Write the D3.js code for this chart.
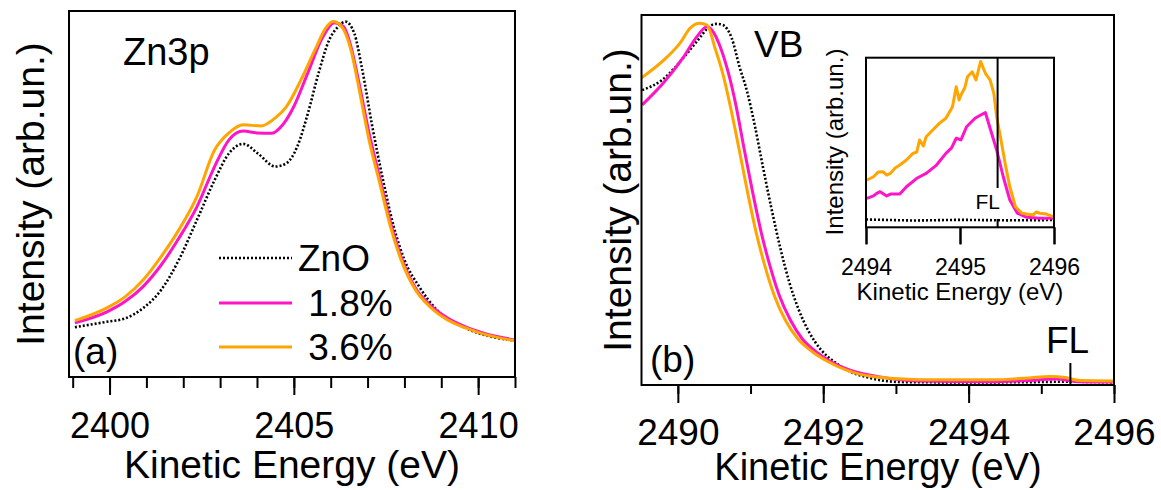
<!DOCTYPE html>
<html>
<head>
<meta charset="utf-8">
<script src="https://cdnjs.cloudflare.com/ajax/libs/d3/7.8.5/d3.min.js"></script>
<style>
body { margin: 0; background: #fff; }
svg { display: block; font-family: "Liberation Sans", Arial, sans-serif; }
</style>
</head>
<body>
<svg id="chart" width="1161" height="490"></svg>
<script>
// ---- panel (a) Zn3p ----
var zn3pEnergyZnO = [2399.06, 2399.93, 2400.42, 2400.91, 2401.40, 2401.88, 2402.37, 2402.85, 2403.24, 2403.63,
    2404.02, 2404.50, 2404.80, 2405.09, 2405.38, 2405.67, 2405.96, 2406.20, 2406.40, 2406.64,
    2406.84, 2407.13, 2407.42, 2407.71, 2408.00, 2408.40, 2408.88, 2409.66, 2411.0];
var zn3pZnO = [13.6, 15.1, 16.0, 18.8, 23.8, 32.0, 42.9, 53.8, 61.1, 63.7,
    61.1, 57.5, 58.4, 62.9, 72.0, 83.0, 92.1, 95.7, 97.1, 93.9,
    84.8, 68.4, 53.8, 41.1, 32.0, 24.7, 18.3, 13.4, 9.9];

var zn3pEnergy18 = [2399.06, 2399.93, 2400.42, 2400.91, 2401.40, 2401.88, 2402.37, 2402.85, 2403.24, 2403.63,
    2404.00, 2404.40, 2404.70, 2405.00, 2405.38, 2405.77, 2406.10, 2406.35, 2406.55, 2406.74,
    2407.04, 2407.33, 2407.62, 2407.91, 2408.30, 2408.69, 2409.17, 2409.66, 2410.15, 2411.0];
var zn3p18 = [14.8, 17.8, 20.6, 24.7, 30.6, 37.9, 46.5, 57.5, 64.8, 67.2,
    66.7, 66.6, 68.9, 73.9, 83.1, 92.6, 96.8, 95.7, 90.2, 81.7,
    66.7, 54.4, 42.3, 32.8, 24.3, 19.7, 16.1, 13.7, 12.0, 10.1];

var zn3pEnergy36 = [2399.06, 2399.93, 2400.42, 2400.91, 2401.40, 2401.88, 2402.37, 2402.85, 2403.24, 2403.63,
    2404.12, 2404.50, 2404.80, 2405.19, 2405.57, 2405.87, 2406.06, 2406.30, 2406.55, 2406.74,
    2407.04, 2407.33, 2407.62, 2407.91, 2408.30, 2408.69, 2409.17, 2409.66, 2410.15, 2411.0];
var zn3p36 = [15.4, 18.9, 21.9, 26.5, 32.9, 40.2, 49.3, 62.0, 66.7, 68.9,
    68.6, 70.8, 73.9, 81.1, 89.3, 95.4, 97.1, 95.7, 89.3, 80.3,
    64.8, 53.0, 41.1, 32.0, 23.8, 19.2, 15.6, 13.4, 11.7, 9.9];

var zn3pMajorTicks = [2400, 2405, 2410];
var zn3pMinorTicks = [2399, 2400, 2401, 2402, 2403, 2404, 2405, 2406, 2407, 2408, 2409, 2410, 2411];

// ---- panel (b) valence band ----
var vbEnergyZnO = [2489.51, 2489.78, 2490.13, 2490.30, 2490.44, 2490.54, 2490.62, 2490.74, 2490.85, 2490.95,
    2491.06, 2491.17, 2491.29, 2491.41, 2491.53, 2491.66, 2491.80, 2491.97, 2492.15, 2492.35,
    2492.64, 2493.06, 2494.0, 2495.0, 2495.3, 2496.0];
var vbZnO = [79.7, 82.4, 89.7, 93.8, 97.0, 97.6, 97.3, 93.8, 85.9, 79.5,
    70.0, 59.0, 47.5, 37.0, 28.0, 20.5, 14.5, 9.5, 6.3, 3.8,
    1.9, 0.8, 0.7, 0.8, 0.9, 0.7];

var vbEnergy18 = [2489.51, 2489.80, 2490.07, 2490.26, 2490.40, 2490.47, 2490.60, 2490.70, 2490.80, 2490.91,
    2491.03, 2491.15, 2491.27, 2491.40, 2491.55, 2491.71, 2491.90, 2492.09, 2492.37, 2492.78,
    2493.3, 2494.3, 2494.8, 2495.2, 2495.5, 2496.0];
var vb18 = [75.7, 81.6, 88.4, 94.1, 96.8, 95.9, 90.5, 84.0, 75.5, 64.0,
    52.0, 41.0, 32.0, 24.0, 17.5, 12.5, 9.0, 6.5, 4.0, 2.2,
    1.1, 0.9, 1.2, 1.6, 0.9, 0.8];

var vbEnergy36 = [2489.50, 2489.85, 2490.03, 2490.17, 2490.30, 2490.40, 2490.52, 2490.62, 2490.72, 2490.84,
    2490.96, 2491.08, 2491.20, 2491.33, 2491.48, 2491.65, 2491.85, 2492.05, 2492.31, 2492.71,
    2493.32, 2494.32, 2494.82, 2495.12, 2495.33, 2495.53, 2496.0];
var vb36 = [83.0, 88.6, 92.4, 96.5, 97.8, 97.3, 90.5, 84.0, 75.5, 64.0,
    52.0, 41.0, 32.0, 24.0, 17.5, 12.5, 9.0, 6.5, 4.1, 2.2,
    1.4, 1.4, 1.9, 2.3, 2.0, 1.2, 1.1];

var vbMajorTicks = [2490, 2492, 2494, 2496];
var vbMinorTicks = [2490, 2491, 2492, 2493, 2494, 2495, 2496];
var fermiLevel = 2495.4;

// ---- inset, zoom on the Fermi edge ----
var insetEnergyZnO = [2494.0, 2494.5, 2495.0, 2495.5, 2496.0];
var insetZnO = [4.6, 4.0, 4.4, 4.1, 4.3];

var insetEnergy18 = [2494.01, 2494.08, 2494.12, 2494.15, 2494.22, 2494.26, 2494.36, 2494.43, 2494.54, 2494.64,
    2494.75, 2494.85, 2494.91, 2494.96, 2495.01, 2495.07, 2495.16, 2495.22, 2495.27, 2495.32,
    2495.39, 2495.46, 2495.53, 2495.61, 2495.71, 2495.85, 2495.99];
var inset18 = [17.1, 18.5, 20.2, 21.0, 18.5, 19.6, 19.6, 23.9, 28.9, 31.8,
    36.7, 43.6, 46.8, 52.5, 51.5, 59.3, 64.3, 66.2, 67.6, 58.4,
    45.6, 29.8, 16.1, 8.3, 5.9, 5.3, 5.3];

var insetEnergy36 = [2494.01, 2494.08, 2494.13, 2494.18, 2494.22, 2494.26, 2494.31, 2494.36, 2494.43, 2494.50,
    2494.54, 2494.57, 2494.61, 2494.64, 2494.71, 2494.78, 2494.85, 2494.92, 2494.96, 2494.99,
    2495.01, 2495.05, 2495.08, 2495.13, 2495.17, 2495.22, 2495.27, 2495.32, 2495.36, 2495.39,
    2495.43, 2495.48, 2495.53, 2495.59, 2495.66, 2495.78, 2495.81, 2495.85, 2495.92, 2495.99];
var inset36 = [27.9, 29.8, 32.6, 32.8, 30.8, 31.8, 35.0, 36.7, 39.7, 43.6,
    44.4, 51.5, 47.9, 53.4, 57.4, 61.3, 64.3, 71.1, 82.9, 75.1,
    78.0, 82.1, 88.8, 91.7, 86.9, 97.8, 90.8, 86.9, 79.0, 65.2,
    53.4, 37.7, 23.9, 12.1, 8.3, 7.3, 9.0, 8.3, 7.8, 6.3];

var insetTicks = [2494, 2495, 2496];

var legendLabels = ['ZnO', ' 1.8%', ' 3.6%'];
var seriesColors = ['#000', '#ff14c8', '#ffa500'];

var svg = d3.select('#chart');

function zip(xs, ys) {
    return xs.map(function(x, i) { return [x, ys[i]]; });
}

function drawSeries(g, x, y, series, curve) {
    var line = d3.line()
        .x(function(d) { return x(d[0]); })
        .y(function(d) { return y(d[1]); })
        .curve(curve);
    series.forEach(function(s, i) {
        g.append('path')
            .datum(s)
            .attr('d', line)
            .attr('fill', 'none')
            .attr('stroke', seriesColors[i])
            .attr('stroke-width', i == 0 ? 2.6 : 3)
            .attr('stroke-dasharray', i == 0 ? '2,2' : null)
            .attr('stroke-linejoin', 'round');
    });
}

function drawAxis(g, x, y0, major, minor, majorLen, minorLen, labelY, fontSize) {
    var minorAxis = d3.axisBottom(x).tickValues(minor).tickSize(minorLen).tickFormat('');
    g.append('g').attr('transform', 'translate(0,' + y0 + ')').call(minorAxis);
    var majorAxis = d3.axisBottom(x).tickValues(major).tickSize(majorLen).tickFormat(d3.format('d'));
    var ag = g.append('g').attr('transform', 'translate(0,' + y0 + ')').call(majorAxis);
    ag.selectAll('text')
        .attr('y', labelY).attr('dy', null)
        .attr('fill', '#000')
        .style('font-size', fontSize + 'px');
    g.selectAll('.domain').remove();
    g.selectAll('.tick line').attr('stroke', '#000').attr('stroke-width', 2);
}

function frame(g, x0, y0, x1, y1) {
    g.append('rect')
        .attr('x', x0).attr('y', y0)
        .attr('width', x1 - x0).attr('height', y1 - y0)
        .attr('fill', 'none').attr('stroke', '#000').attr('stroke-width', 2);
}

function clip(id, x0, y0, x1, y1) {
    svg.append('clipPath').attr('id', id)
        .append('rect').attr('x', x0).attr('y', y0).attr('width', x1 - x0).attr('height', y1 - y0);
}

function text(g, x, y, str, size, anchor, rotate) {
    var t = g.append('text')
        .attr('x', x).attr('y', y)
        .attr('text-anchor', anchor || 'start')
        .style('font-size', size + 'px')
        .style('white-space', 'pre')
        .text(str);
    if (rotate)
        t.attr('transform', 'rotate(-90,' + x + ',' + y + ')');
    return t;
}

// panel (a)
var ax = d3.scaleLinear().domain([2398.9, 2411]).range([69, 515]);
var ay = d3.scaleLinear().domain([0, 100]).range([377, 11]);
var ga = svg.append('g');
clip('clipa', 69, 11, 515, 377);
drawSeries(ga.append('g').attr('clip-path', 'url(#clipa)'), ax, ay,
    [zip(zn3pEnergyZnO, zn3pZnO), zip(zn3pEnergy18, zn3p18), zip(zn3pEnergy36, zn3p36)], d3.curveMonotoneX);
frame(ga, 69, 11, 515, 377);
drawAxis(ga, ax, 377, zn3pMajorTicks, zn3pMinorTicks, 18, 11, 61, 36);
text(ga, (69 + 515) / 2, 478, 'Kinetic Energy (eV)', 39, 'middle');
text(ga, 44, 194, 'Intensity (arb.un.)', 39, 'middle', true);
text(ga, 123, 65, 'Zn3p', 38);
text(ga, 73, 364, '(a)', 37);

// legend
legendLabels.forEach(function(lab, i) {
    var ly = [258, 303, 347][i];
    ga.append('line')
        .attr('x1', 219).attr('x2', 292).attr('y1', ly).attr('y2', ly)
        .attr('stroke', seriesColors[i])
        .attr('stroke-width', i == 0 ? 2.6 : 3)
        .attr('stroke-dasharray', i == 0 ? '2,2' : null);
    text(ga, 298, ly + 13, lab, 37);
});

// panel (b)
var bx = d3.scaleLinear().domain([2489.5, 2496]).range([641.5, 1114]);
var by = d3.scaleLinear().domain([0, 100]).range([385, 15]);
var gb = svg.append('g');
clip('clipb', 641.5, 15, 1114, 385);
drawSeries(gb.append('g').attr('clip-path', 'url(#clipb)'), bx, by,
    [zip(vbEnergyZnO, vbZnO), zip(vbEnergy18, vb18), zip(vbEnergy36, vb36)], d3.curveMonotoneX);
frame(gb, 641.5, 15, 1114, 385);
drawAxis(gb, bx, 385, vbMajorTicks, vbMinorTicks, 18, 9, 60, 37);
gb.append('line')
    .attr('x1', bx(fermiLevel)).attr('x2', bx(fermiLevel))
    .attr('y1', 363).attr('y2', 385)
    .attr('stroke', '#000').attr('stroke-width', 2);
text(gb, 1046, 353, 'FL', 37);
text(gb, 878, 480, 'Kinetic Energy (eV)', 38, 'middle');
text(gb, 631, 200, 'Intensity (arb.un.)', 39, 'middle', true);
text(gb, 754, 57, 'VB', 37);
text(gb, 650, 372, '(b)', 37);

// inset
var ix = d3.scaleLinear().domain([2494, 2496]).range([866, 1054]);
var iy = d3.scaleLinear().domain([0, 100]).range([227.3, 57.7]);
var gi = svg.append('g');
gi.append('rect').attr('x', 866).attr('y', 57.7).attr('width', 188).attr('height', 169.6).attr('fill', '#fff');
clip('clipi', 866, 57.7, 1054, 227.3);
drawSeries(gi.append('g').attr('clip-path', 'url(#clipi)'), ix, iy,
    [zip(insetEnergyZnO, insetZnO), zip(insetEnergy18, inset18), zip(insetEnergy36, inset36)], d3.curveLinear);
frame(gi, 866, 57.7, 1054, 227.3);
drawAxis(gi, ix, 227.3, insetTicks, insetTicks, 17, 17, 48, 23);
gi.append('line')
    .attr('x1', ix(fermiLevel)).attr('x2', ix(fermiLevel))
    .attr('y1', 57.7).attr('y2', 188)
    .attr('stroke', '#000').attr('stroke-width', 2);
gi.append('line')
    .attr('x1', ix(fermiLevel)).attr('x2', ix(fermiLevel))
    .attr('y1', 219).attr('y2', 227)
    .attr('stroke', '#000').attr('stroke-width', 2);
text(gi, 1000, 209, 'FL', 21, 'end');
text(gi, 960, 300, 'Kinetic Energy (eV)', 24, 'middle');
text(gi, 843, 142, 'Intensity (arb.un.)', 24, 'middle', true);
</script>
</body>
</html>
